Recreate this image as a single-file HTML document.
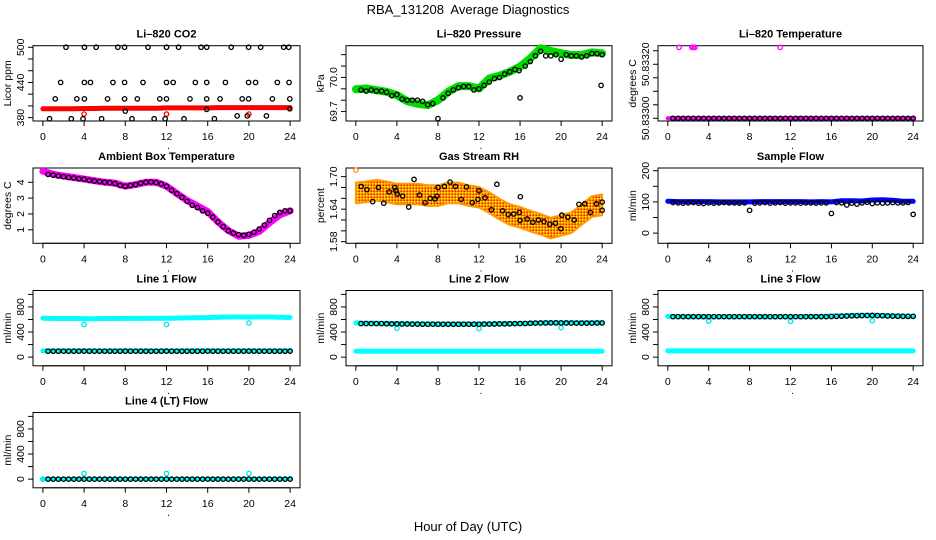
<!DOCTYPE html>
<html><head><meta charset="utf-8">
<style>
html,body{margin:0;padding:0;background:#fff;}
svg{display:block;font-family:"Liberation Sans",Arial,sans-serif;}
</style></head>
<body>
<svg id="chart" width="936" height="540" viewBox="0 0 936 540" xmlns="http://www.w3.org/2000/svg">
<defs>
<pattern id="rhpat" width="3" height="3" patternUnits="userSpaceOnUse">
<rect width="3" height="3" fill="#ff9900"/>
<rect x="0" y="0" width="1.5" height="1.5" fill="#ffee00"/>
<rect x="1.5" y="1.5" width="1.5" height="1.5" fill="#ee2200"/>
</pattern>
</defs>
<text x="468" y="14" font-size="13" text-anchor="middle">RBA_131208&#160; Average Diagnostics</text>
<text x="468" y="531" font-size="13" text-anchor="middle">Hour of Day (UTC)</text>
</svg>
<script>
// ---- shared data ----
const hourTicks = [0,4,8,12,16,20,24];
const hoursHourly = [0,1,2,3,4,5,6,7,8,9,10,11,12,13,14,15,16,17,18,19,20,21,22,23,24];
const hoursHalf = [0.5,1,1.5,2,2.5,3,3.5,4,4.5,5,5.5,6,6.5,7,7.5,8,8.5,9,9.5,10,10.5,11,11.5,12,12.5,13,13.5,14,14.5,15,15.5,16,16.5,17,17.5,18,18.5,19,19.5,20,20.5,21,21.5,22,22.5,23,23.5,24];

// CO2
const co2RedLine = [395,395,395,395,395.5,395.5,396,396,396,396,396,396,396.5,396.5,396.5,396.5,396.5,397,397,397,397,397,397,397,397];
const co2RedOutHours = [4,12,20];
const co2RedOutVals = [386,386,386];
const co2BlackHours = [2.24,4.03,5.17,7.28,7.93,10.2,12.0,13.17,15.35,15.9,18.28,19.97,21.14,23.38,23.87,
 1.72,4.03,4.62,6.8,7.93,9.72,12.0,12.65,14.8,15.9,17.72,19.97,20.65,22.76,23.9,
 1.2,3.3,4.03,6.28,7.93,9.17,11.35,12.0,14.28,15.9,17.2,19.35,19.97,22.28,23.97,
 15.9,8.0,18.86,19.84,21.7,23.97,
 0.65,2.76,3.9,5.7,8.65,10.8,11.87,13.7,16.65];
const co2BlackVals = [500,500,500,500,500,500,500,500,500,500,500,500,500,500,500,
 440,440,440,440,440,440,440,440,440,440,440,440,440,440,440,
 412,412,412,412,412,412,412,412,412,412,412,412,412,412,412,
 394,391,383,383,383,395,
 378,378,378,378,378,378,378,378,378];

// Pressure
const presGreen = [69.897,69.903,69.888,69.874,69.844,69.791,69.768,69.756,69.8,69.874,69.924,69.924,69.903,69.991,70.015,70.05,70.094,70.168,70.256,70.232,70.212,70.197,70.197,70.22,70.212];
const presBlack = [69.89,69.88,69.89,69.88,69.88,69.87,69.84,69.85,69.81,69.8,69.8,69.8,69.79,69.76,69.77,69.638,69.82,69.86,69.89,69.91,69.92,69.92,69.89,69.9,69.93,69.96,69.99,70.0,70.03,70.05,70.07,69.82,70.1,70.14,70.19,70.23,70.19,70.19,70.2,70.16,70.2,70.19,70.19,70.18,70.19,70.21,70.21,70.2];
const presOutHours = [23.9,15.9];
const presOutVals = [69.93,70.06];

// Li-820 temperature
const tempMagenta = [50.833,50.833,50.833,50.833,50.833,50.833,50.833,50.833,50.833,50.833,50.833,50.833,50.833,50.833,50.833,50.833,50.833,50.833,50.833,50.833,50.833,50.833,50.833,50.833,50.833];
const tempOutHours = [1.1,2.35,2.5,2.65,11];
const tempOutVals = [50.83321,50.83321,50.83321,50.83321,50.83321];
const tempBlack = [50.833,50.833,50.833,50.833,50.833,50.833,50.833,50.833,50.833,50.833,50.833,50.833,50.833,50.833,50.833,50.833,50.833,50.833,50.833,50.833,50.833,50.833,50.833,50.833,50.833,50.833,50.833,50.833,50.833,50.833,50.833,50.833,50.833,50.833,50.833,50.833,50.833,50.833,50.833,50.833,50.833,50.833,50.833,50.833,50.833,50.833,50.833,50.833];

// Ambient box temp
const ambMagenta = [4.7,4.5,4.4,4.3,4.2,4.1,4.0,3.95,3.75,3.85,4.0,4.0,3.75,3.3,2.85,2.5,2.15,1.5,0.95,0.6,0.65,0.9,1.45,1.95,2.2];
const ambBlack = [4.5,4.45,4.4,4.35,4.3,4.27,4.22,4.2,4.12,4.08,4.05,4.0,3.98,3.92,3.8,3.75,3.8,3.85,3.95,4.0,4.02,3.98,3.9,3.75,3.5,3.28,3.05,2.8,2.55,2.4,2.2,2.05,1.8,1.5,1.2,0.95,0.8,0.7,0.65,0.72,0.85,1.05,1.3,1.6,1.9,2.1,2.2,2.2];

// Gas stream RH
const rhCenter = [1.670,1.672,1.675,1.672,1.668,1.668,1.668,1.665,1.665,1.670,1.670,1.665,1.662,1.652,1.640,1.630,1.625,1.618,1.612,1.605,1.610,1.615,1.630,1.645,1.648];
const rhBlackHours = [0.52,1.08,1.64,2.2,2.72,3.25,3.8,3.9,4.03,4.56,5.15,5.67,6.2,6.75,7.25,7.7,7.9,8.0,8.62,9.18,9.7,10.26,10.79,11.34,11.9,12.0,12.59,13.21,13.74,14.3,14.85,15.38,15.93,16.03,16.0,16.69,17.25,17.8,18.33,18.89,19.44,19.97,20.07,20.66,21.28,21.74,22.3,22.85,23.44,24.0,24.0];
const rhBlackVals = [1.682,1.676,1.654,1.680,1.651,1.672,1.680,1.674,1.668,1.664,1.644,1.695,1.666,1.652,1.660,1.659,1.664,1.680,1.682,1.690,1.682,1.658,1.681,1.652,1.658,1.674,1.661,1.639,1.686,1.637,1.630,1.631,1.634,1.663,1.619,1.622,1.616,1.620,1.617,1.612,1.614,1.604,1.629,1.625,1.620,1.649,1.650,1.634,1.650,1.653,1.638];

// Sample flow
const sampBlue = [102,101,101,101,101,100,100,100,100,101,101,101,101,101,100,101,100,104,104,103,106,107,105,102,102];
const sampBlack = [98,97,96,97,98,96,95,97,96,97,98,97,97,96,97,73,96,97,98,96,97,98,96,97,97,96,97,97,96,97,97,63,98,97,90,96,93,97,99,95,97,96,97,98,97,97,98,60];

// Line flows
const l1CyanHigh = [620,615,615,615,612,612,615,615,618,618,618,620,620,622,625,628,630,635,640,640,638,640,640,635,632];
const l1CyanLow = [100,100,100,100,100,100,100,100,100,100,100,100,100,100,100,100,100,100,100,100,100,100,100,100,100];
const l1Black = [95,95,95,95,95,95,95,96,95,95,95,95,95,95,95,96,95,95,95,95,95,95,95,96,95,95,95,95,95,95,95,96,95,95,95,95,95,95,95,96,95,95,95,95,95,95,95,96];
const l1OutHours = [4,12,20];
const l1OutVals = [520,520,545];

const l2CyanHigh = [545,540,540,538,535,532,530,530,528,528,528,528,528,530,532,535,538,540,545,548,550,550,548,548,550];
const l2CyanLow = [95,95,95,95,95,95,95,95,95,95,95,95,95,95,95,95,95,95,95,95,95,95,95,95,95];
const l2Black = [535,535,535,535,535,532,530,530,528,528,526,526,525,525,525,525,524,524,524,524,525,525,525,525,526,527,528,530,530,532,534,535,537,540,542,544,545,546,546,545,544,543,542,542,542,543,544,545];
const l2OutHours = [4,12,20];
const l2OutVals = [460,455,470];

const l3CyanHigh = [650,648,645,645,645,645,645,645,645,645,645,645,645,645,648,650,655,660,665,668,665,662,660,655,650];
const l3CyanLow = [100,100,100,100,100,100,100,100,100,100,100,100,100,100,100,100,100,100,100,100,100,100,100,100,100];
const l3Black = [645,645,645,645,645,645,645,645,645,645,645,645,645,645,645,645,645,645,645,645,645,645,645,645,645,645,645,645,645,645,645,648,650,652,655,658,660,662,664,665,662,660,656,654,652,650,650,650];
const l3OutHours = [4,12,20];
const l3OutVals = [575,570,580];

const l4Cyan = [0,0,0,0,0,0,0,0,0,0,0,0,0,0,0,0,0,0,0,0,0,0,0,0,0];
const l4Black = [0,0,0,0,0,0,0,0,0,0,0,0,0,0,0,0,0,0,0,0,0,0,0,0,0,0,0,0,0,0,0,0,0,0,0,0,0,0,0,0,0,0,0,0,0,0,0,0];
const l4OutHours = [0,4,12,20];
const l4OutVals = [0,90,90,90];

// ---- layout ----
const NS = "http://www.w3.org/2000/svg";
const svg = document.getElementById("chart");
const colX = [[33,300],[346,612],[658,923]];
const rowY = [45.7,168,290.5,412.5];
const boxH = 75.3;

function el(tag, attrs, parent){
  const e = document.createElementNS(NS, tag);
  for (const k in attrs) e.setAttribute(k, attrs[k]);
  (parent||svg).appendChild(e);
  return e;
}

function makePanel(key, col, row, ymin, ymax, title, ylab, yticks, ylabels){
  const L = colX[col][0], R = colX[col][1], T = rowY[row], B = T + boxH;
  const g = el("g", {});
  
  
  const xs = h => L + (h + 0.96) / 25.92 * (R - L);
  const ys = v => T + (ymax - v) / (ymax - ymin) * (B - T);
  const box = el("rect", {x:L, y:T, width:R-L, height:B-T, fill:"none", stroke:"#000", "stroke-width":1}, g);
  
  
  const t = el("text", {x:(L+R)/2, y:T-8, "font-size":11, "font-weight":"bold", "text-anchor":"middle"}, g);
  t.textContent = title;
  
  
  const xa = el("g", {}, g);
  
  
  el("line", {x1:xs(0), x2:xs(24), y1:B, y2:B, stroke:"#000"}, xa);
  hourTicks.forEach(h => {
    el("line", {x1:xs(h), x2:xs(h), y1:B, y2:B+5, stroke:"#000"}, xa);
    const lt = el("text", {x:xs(h), y:B+19, "font-size":10.5, "text-anchor":"middle"}, xa);
    lt.textContent = h;
    
    
  });
  const dot = el("text", {x:xs(12)+2, y:B+28, "font-size":10, "text-anchor":"middle"}, xa);
  dot.textContent = ".";
  
  
  const ya = el("g", {}, g);
  
  
  el("line", {x1:L, x2:L, y1:ys(yticks[0]), y2:ys(yticks[yticks.length-1]), stroke:"#000"}, ya);
  yticks.forEach(v => el("line", {x1:L-5, x2:L, y1:ys(v), y2:ys(v), stroke:"#000"}, ya));
  ylabels.forEach(lb => {
    const yy = ys(lb[0]);
    const tx = el("text", {x:L-9, y:yy, "font-size":10.5, "text-anchor":"middle", transform:`rotate(-90 ${L-9} ${yy})`}, ya);
    tx.textContent = lb[1];
    
    
  });
  const yl = el("text", {x:L-22, y:(T+B)/2, "font-size":10.5, "text-anchor":"middle", transform:`rotate(-90 ${L-22} ${(T+B)/2})`}, g);
  yl.textContent = ylab;
  
  
  return {g, xs, ys};
}

function band(p, name, hours, vals, color, w){
  const pts = hours.map((h,i) => p.xs(h).toFixed(1) + "," + p.ys(vals[i]).toFixed(1)).join(" ");
  const pl = el("polyline", {points:pts, fill:"none", stroke:color, "stroke-width":w, "stroke-linejoin":"round", "stroke-linecap":"round"}, p.g);
  
  
}
function circles(p, name, hours, vals, color){
  const gg = el("g", {}, p.g);
  
  
  hours.forEach((h,i) => {
    const c = el("circle", {cx:p.xs(h), cy:p.ys(vals[i]), r:2.2, fill:"none", stroke:color, "stroke-width":1.3}, gg);
    
    
  });
}

let p = makePanel("co2", 0, 0, 374.2, 502.7, "Li–820 CO2", "Licor ppm", [380,400,420,440,460,480,500], [[380,"380"],[440,"440"],[500,"500"]]);
band(p, "co2-red-series", hoursHourly, co2RedLine, "#ff0000", 5);
circles(p, "co2-red-outliers", co2RedOutHours, co2RedOutVals, "#ff0000");
circles(p, "co2-black-series", co2BlackHours, co2BlackVals, "#000");

p = makePanel("pressure", 1, 0, 69.617, 70.279, "Li–820 Pressure", "kPa", [69.7,69.8,69.9,70.0,70.1,70.2], [[69.7,"69.7"],[70.0,"70.0"]]);
band(p, "pressure-green-series", hoursHourly, presGreen, "#00dd00", 8);
circles(p, "pressure-black-series", hoursHalf, presBlack, "#000");
circles(p, "pressure-outliers", presOutHours, presOutVals, "#000");

p = makePanel("li820-temp", 2, 0, 50.832992, 50.833215, "Li–820 Temperature", "degrees C", [50.833,50.83304,50.83308,50.83312,50.83316,50.8332], [[50.833,"50.83300"],[50.83316,"50.83320"]]);
band(p, "li820-temp-magenta-series", hoursHourly, tempMagenta, "#ff00ff", 4);
circles(p, "li820-temp-magenta-outliers", tempOutHours, tempOutVals, "#ff00ff");
circles(p, "li820-temp-black-series", hoursHalf, tempBlack, "#000");

p = makePanel("ambient", 0, 1, 0.15, 4.9, "Ambient Box Temperature", "degrees C", [1,2,3,4], [[1,"1"],[2,"2"],[3,"3"],[4,"4"]]);
band(p, "ambient-magenta-series", hoursHourly, ambMagenta, "#ff00ff", 7);
circles(p, "ambient-black-series", hoursHalf, ambBlack, "#000");

p = makePanel("rh", 1, 1, 1.577, 1.716, "Gas Stream RH", "percent", [1.58,1.60,1.62,1.64,1.66,1.68,1.70], [[1.58,"1.58"],[1.64,"1.64"],[1.70,"1.70"]]);
(function(){
  const up = hoursHourly.map((h,i)=>p.xs(h).toFixed(1)+","+p.ys(rhCenter[i]+0.019).toFixed(1));
  const dn = hoursHourly.map((h,i)=>p.xs(h).toFixed(1)+","+p.ys(rhCenter[i]-0.019).toFixed(1)).reverse();
  const pg = el("polygon", {points:up.concat(dn).join(" "), fill:"url(#rhpat)", stroke:"#ff9900", "stroke-width":2, "stroke-linejoin":"round"}, p.g);
  
  
})();
circles(p, "rh-orange-outlier", [0], [1.712], "#ff9900");
circles(p, "rh-black-series", rhBlackHours, rhBlackVals, "#000");

p = makePanel("sample-flow", 2, 1, -32.6, 208.6, "Sample Flow", "ml/min", [0,50,100,150,200], [[0,"0"],[100,"100"],[200,"200"]]);
band(p, "sample-flow-blue-series", hoursHourly, sampBlue, "#0000ff", 5);
circles(p, "sample-flow-black-series", hoursHalf, sampBlack, "#000");

const flowTicks = [0,200,400,600,800,1000];
const flowLabels = [[0,"0"],[400,"400"],[800,"800"]];
p = makePanel("line1", 0, 2, -138, 1062, "Line 1 Flow", "ml/min", flowTicks, flowLabels);
band(p, "line1-cyan-high", hoursHourly, l1CyanHigh, "#00ffff", 5);
band(p, "line1-cyan-low", hoursHourly, l1CyanLow, "#00ffff", 5);
circles(p, "line1-cyan-outliers", l1OutHours, l1OutVals, "#00e5e5");
circles(p, "line1-black-series", hoursHalf, l1Black, "#000");
p = makePanel("line2", 1, 2, -138, 1062, "Line 2 Flow", "ml/min", flowTicks, flowLabels);
band(p, "line2-cyan-high", hoursHourly, l2CyanHigh, "#00ffff", 5);
band(p, "line2-cyan-low", hoursHourly, l2CyanLow, "#00ffff", 5);
circles(p, "line2-cyan-outliers", l2OutHours, l2OutVals, "#00e5e5");
circles(p, "line2-black-series", hoursHalf, l2Black, "#000");
p = makePanel("line3", 2, 2, -138, 1062, "Line 3 Flow", "ml/min", flowTicks, flowLabels);
band(p, "line3-cyan-high", hoursHourly, l3CyanHigh, "#00ffff", 5);
band(p, "line3-cyan-low", hoursHourly, l3CyanLow, "#00ffff", 5);
circles(p, "line3-cyan-outliers", l3OutHours, l3OutVals, "#00e5e5");
circles(p, "line3-black-series", hoursHalf, l3Black, "#000");
p = makePanel("line4", 0, 3, -138, 1062, "Line 4 (LT) Flow", "ml/min", flowTicks, flowLabels);
band(p, "line4-cyan-series", hoursHourly, l4Cyan, "#00ffff", 4);
circles(p, "line4-cyan-outliers", l4OutHours, l4OutVals, "#00e5e5");
circles(p, "line4-black-series", hoursHalf, l4Black, "#000");
</script>
</body></html>
